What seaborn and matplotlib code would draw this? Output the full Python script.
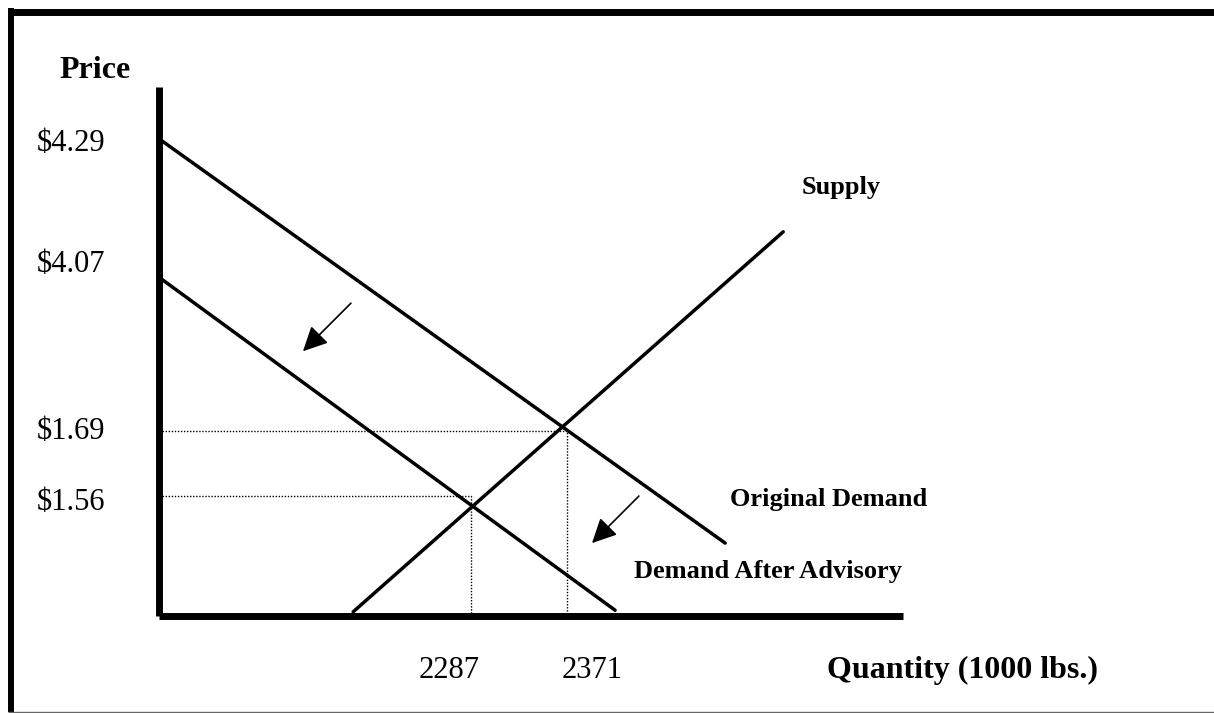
import matplotlib
matplotlib.use("Agg")
import matplotlib.pyplot as plt
from matplotlib.lines import Line2D
import pandas as pd
import seaborn as sns

# ---- data (schematic diagram, not to scale: both axes run 0-100) ----
curve_names = ["Original Demand", "Demand After Advisory", "Supply"]
curve_q = [[0.0, 76.1], [0.0, 61.3], [26.1, 83.9]]
curve_p = [[90.2, 13.7], [64.0, 1.0], [0.7, 72.6]]

eq_q = [54.8, 41.9]          # equilibrium quantities (schematic position)
eq_p = [35.0, 22.6]          # equilibrium prices (schematic position)

price_ticks = [90.0, 67.0, 35.4, 22.0]
price_labels = ["$4.29", "$4.07", "$1.69", "$1.56"]
qty_ticks = [39.0, 58.2]
qty_labels = ["2287", "2371"]

shift_tail_q = [25.8, 64.5]
shift_tail_p = [59.1, 22.6]
shift_head_q = [19.35, 58.2]
shift_head_p = [50.0, 13.7]

# ---- build long table ----
rows = []
for name, qs, ps in zip(curve_names, curve_q, curve_p):
    for q, p in zip(qs, ps):
        rows.append({"curve": name, "q": q, "p": p})
df = pd.DataFrame(rows)

sns.set_theme(style="white")
plt.rcParams["font.family"] = ["Liberation Serif", "DejaVu Serif"]

W, H = 1214, 713
fig = plt.figure(figsize=(W / 100, H / 100), dpi=100)
fig.patch.set_facecolor("white")

# axes box: origin at (159, 615.5) px, top at 87 px, right end at 903 px
ax = fig.add_axes([159 / W, 1 - 615.5 / H, (903 - 159) / W, (615.5 - 87) / H])
ax.set_facecolor("white")

sns.lineplot(data=df, x="q", y="p", hue="curve",
             palette={n: "black" for n in curve_names},
             estimator=None, sort=False, legend=False,
             linewidth=2.5, ax=ax)

# dotted guides to the equilibria
for q, p in zip(eq_q, eq_p):
    ax.plot([0, q, q], [p, p, 0], color="black", lw=1.0,
            linestyle=(0, (1.0, 1.2)), zorder=1.5)

# shift arrows
for tq, tp, hq, hp in zip(shift_tail_q, shift_tail_p, shift_head_q, shift_head_p):
    ax.annotate("", xy=(hq, hp), xytext=(tq, tp),
                arrowprops=dict(arrowstyle="-|>,head_length=0.75,head_width=0.37",
                                mutation_scale=20, color="black", lw=1.2,
                                shrinkA=0, shrinkB=0))

# curve labels
ax.text(86.4, 79.75, "Supply", fontsize=19, fontweight="bold",
        ha="left", va="baseline", color="black")
ax.text(76.75, 20.7, "Original Demand", fontsize=19, fontweight="bold",
        ha="left", va="baseline", color="black")
ax.text(63.85, 7.1, "Demand After Advisory", fontsize=19, fontweight="bold",
        ha="left", va="baseline", color="black")

ax.set_xlim(0, 100)
ax.set_ylim(0, 100)
ax.set_xlabel("")
ax.set_ylabel("")

ax.set_yticks(price_ticks, labels=price_labels)
ax.set_xticks(qty_ticks, labels=qty_labels)
ax.tick_params(axis="y", length=0, pad=38.9, labelsize=22, labelcolor="black")
ax.tick_params(axis="x", length=0, pad=45, labelsize=22, labelcolor="black")
for lab in ax.get_xticklabels():
    lab.set_verticalalignment("baseline")

for side in ["top", "right"]:
    ax.spines[side].set_visible(False)
for side in ["left", "bottom"]:
    ax.spines[side].set_color("black")
    ax.spines[side].set_linewidth(5.0)
    ax.spines[side].set_capstyle("butt")

# axis titles
fig.text(59 / W, 1 - 78 / H, "Price", fontsize=23, fontweight="bold",
         ha="left", va="baseline", color="black")
fig.text(827 / W, 1 - 678 / H, "Quantity (1000 lbs.)", fontsize=23,
         fontweight="bold", ha="left", va="baseline", color="black")

# outer frame (top and left thick, bottom thin grey)
fig.add_artist(Line2D([8 / W, 1.0], [1 - 11.5 / H, 1 - 11.5 / H],
                      transform=fig.transFigure, color="black", lw=5.0,
                      solid_capstyle="butt"))
fig.add_artist(Line2D([11 / W, 11 / W], [1 - 8 / H, 1 - 712 / H],
                      transform=fig.transFigure, color="black", lw=4.3,
                      solid_capstyle="butt"))
fig.add_artist(Line2D([8 / W, 1.0], [1 - 711.5 / H, 1 - 711.5 / H],
                      transform=fig.transFigure, color="#666666", lw=1.0,
                      solid_capstyle="butt"))

fig.savefig("out.png", dpi=100, facecolor="white")
